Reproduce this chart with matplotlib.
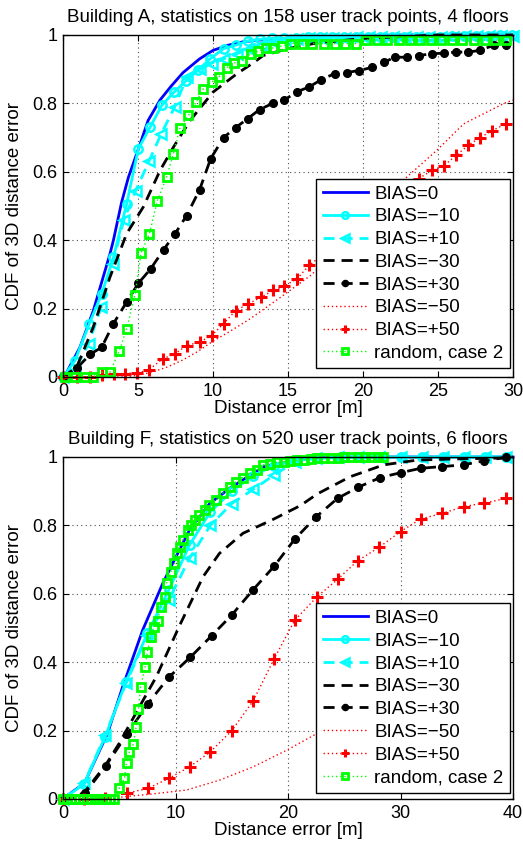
import matplotlib
matplotlib.use('Agg')
import matplotlib.pyplot as plt

plt.rcParams['font.family'] = ['Liberation Sans', 'DejaVu Sans']
plt.rcParams['font.size'] = 13.5

labels = ['BIAS=0', 'BIAS=\u221210', 'BIAS=+10', 'BIAS=\u221230', 'BIAS=+30',
          'BIAS=\u221250', 'BIAS=+50', 'random, case 2']

# ---- Building A ----
a_title = 'Building A, statistics on 158 user track points, 4 floors'
a_xticks = [0, 5, 10, 15, 20, 25, 30]

a_bias0_x = [0, 0.2, 1.13, 2.02, 3.13, 3.36, 3.9, 4.36, 5.13, 5.67, 6.47, 7.2, 8.0, 9.1, 10.0, 11.0, 12.0, 13.0, 15.0, 18.0, 22.0, 30.0]
a_bias0_y = [0, 0.01, 0.087, 0.194, 0.36, 0.40, 0.51, 0.584, 0.68, 0.75, 0.81, 0.85, 0.89, 0.93, 0.955, 0.97, 0.98, 0.985, 0.99, 0.995, 1.0, 1.0]

a_m10_x = [0, 0.8, 1.75, 2.58, 3.36, 4.24, 5.02, 5.8, 6.58, 7.4, 8.2, 9.0, 9.8, 10.7, 11.5, 12.3, 13.1, 13.9, 14.7,
           15.5, 16.3, 17.1, 17.9, 18.7, 19.5, 20.3, 21.1, 21.9, 22.7, 23.5, 24.3, 25.1, 25.9, 26.7, 27.5, 28.3, 29.1, 29.9]
a_m10_y = [0, 0.048, 0.156, 0.243, 0.35, 0.506, 0.667, 0.73, 0.794, 0.833, 0.866, 0.897, 0.93, 0.96, 0.97, 0.982, 0.987, 0.99, 0.99,
           0.99, 0.993, 0.993, 0.993, 0.993, 0.995, 0.995, 0.995, 0.995, 0.995, 0.995, 0.995, 0.995, 0.997, 0.997, 0.997, 0.997, 1.0, 1.0]

a_p10_x = [0, 0.8, 1.7, 2.55, 3.3, 4.05, 4.85, 5.75, 6.55, 7.45, 8.25, 9.1, 9.9, 10.7, 11.6, 12.4, 13.2, 14.0, 14.8,
           15.6, 16.4, 17.2, 18.0, 18.8, 19.6, 20.4, 21.2, 22.0, 22.8, 23.6, 24.4, 25.2, 26.0, 26.8, 27.6, 28.4, 29.2, 30.0]
a_p10_y = [0, 0.02, 0.097, 0.204, 0.33, 0.458, 0.545, 0.633, 0.711, 0.79, 0.877, 0.90, 0.916, 0.93, 0.945, 0.96, 0.97, 0.98, 0.985,
           0.988, 0.99, 0.99, 0.99, 0.99, 0.993, 0.993, 0.993, 0.993, 0.995, 0.995, 0.995, 0.995, 0.995, 0.997, 0.997, 0.997, 0.997, 0.997]

a_m30_x = [0, 0.91, 2.02, 3.13, 4.24, 5.35, 6.47, 7.36, 8.47, 10.0, 11.6, 12.6, 13.35, 15.0, 16.7, 20.0, 25.0, 30.0]
a_m30_y = [0, 0.029, 0.146, 0.292, 0.419, 0.497, 0.604, 0.672, 0.75, 0.833, 0.887, 0.916, 0.94, 0.96, 0.975, 0.99, 1.0, 1.0]

a_p30_x = [0, 0.9, 1.8, 2.58, 3.36, 4.24, 5.02, 5.84, 6.7, 7.47, 8.24, 9.1, 9.84, 10.7, 11.5, 12.3, 13.1, 13.98, 14.75,
           15.6, 16.4, 17.2, 18.1, 18.9, 19.7, 20.6, 21.4, 22.1, 22.9, 23.7, 24.6, 25.4, 26.2, 27.0, 27.8, 28.7, 29.5]
a_p30_y = [0, 0.025, 0.066, 0.087, 0.156, 0.219, 0.274, 0.316, 0.372, 0.419, 0.472, 0.547, 0.638, 0.70, 0.729, 0.755, 0.782, 0.80, 0.81,
           0.834, 0.848, 0.869, 0.887, 0.89, 0.896, 0.905, 0.92, 0.935, 0.935, 0.94, 0.945, 0.947, 0.95, 0.95, 0.955, 0.97, 0.97]

a_m50_x = [0, 4.0, 5.0, 6.0, 7.0, 8.0, 9.0, 10.0, 11.0, 12.47, 14.5, 16.6, 22.9, 24.9, 26.7, 29.4, 30.0]
a_m50_y = [0, 0, 0.005, 0.015, 0.03, 0.05, 0.075, 0.105, 0.13, 0.17, 0.233, 0.30, 0.584, 0.662, 0.74, 0.80, 0.81]

a_p50_x = [0, 0.9, 1.8, 2.6, 3.4, 4.1, 4.95, 5.7, 6.64, 7.47, 8.24, 9.1, 9.9, 10.7, 11.5, 12.35, 13.2, 14.0, 14.7, 15.6, 16.4,
           23.7, 24.6, 25.4, 26.2, 27.0, 27.8, 28.6, 29.5]
a_p50_y = [0, 0, 0, 0.005, 0.01, 0.01, 0.012, 0.02, 0.053, 0.068, 0.092, 0.102, 0.121, 0.156, 0.194, 0.214, 0.233, 0.253, 0.265, 0.287, 0.326,
           0.58, 0.604, 0.618, 0.648, 0.677, 0.70, 0.72, 0.74]

a_rand_x = [0.13, 0.8, 1.47, 2.0, 2.58, 3.13, 3.76, 4.24, 4.8, 5.2, 5.76, 6.29, 6.9, 7.36, 7.8, 8.36, 8.87, 9.36, 9.9, 10.4,
            10.9, 11.4, 11.9, 12.5, 13.0, 13.5, 14.0, 14.6, 15.2, 15.9, 16.6, 17.4, 18.1, 18.8, 19.5, 20.2, 20.9, 21.6,
            22.4, 23.1, 23.8, 24.5, 25.2, 25.9, 26.6, 27.4, 28.1, 28.8, 29.5]
a_rand_y = [0, 0, 0, 0, 0.014, 0.014, 0.077, 0.14, 0.241, 0.362, 0.419, 0.516, 0.584, 0.653, 0.729, 0.765, 0.804, 0.843, 0.862, 0.877,
            0.904, 0.918, 0.925, 0.945, 0.952, 0.962, 0.962, 0.968, 0.975, 0.975, 0.975, 0.975, 0.975, 0.975, 0.975, 0.985, 0.985, 0.985,
            0.985, 0.985, 0.985, 0.985, 0.985, 0.985, 0.985, 0.985, 0.985, 0.985, 0.985]

# ---- Building F ----
f_title = 'Building F, statistics on 520 user track points, 6 floors'
f_xticks = [0, 10, 20, 30, 40]

f_grid_x = [0, 1.87, 3.75, 5.6, 7.5, 9.4, 11.25, 13.1, 15.0, 16.9, 18.75, 20.6, 22.5, 24.4, 26.25, 28.1, 30.0, 31.9, 33.75, 35.6, 37.5, 39.4]

f_bias0_x = [0, 0.24, 1.9, 3.96, 5.3, 7.08, 8.87, 9.9, 11.25, 13.04, 14.8, 17.8, 21.7, 25.0, 40.0]
f_bias0_y = [0, 0.007, 0.046, 0.192, 0.328, 0.494, 0.631, 0.699, 0.787, 0.864, 0.908, 0.971, 0.996, 1.0, 1.0]

f_m10_y = [0, 0.044, 0.182, 0.343, 0.484, 0.611, 0.743, 0.84, 0.90, 0.945, 0.975, 0.99, 0.996, 0.998, 1, 1, 1, 1, 1, 1, 1, 1]
f_p10_y = [0, 0.046, 0.187, 0.338, 0.48, 0.582, 0.704, 0.80, 0.864, 0.905, 0.947, 0.985, 0.997, 1, 1, 1, 1, 1, 1, 1, 1, 1]

f_m30_x = [0, 1.0, 1.9, 3.8, 5.0, 6.8, 8.3, 10.4, 12.45, 13.9, 16.0, 18.7, 21.1, 22.6, 25.5, 28.5, 31.5, 34.5, 39.0, 40.0]
f_m30_y = [0, 0.005, 0.02, 0.10, 0.163, 0.27, 0.358, 0.51, 0.65, 0.718, 0.777, 0.818, 0.858, 0.892, 0.942, 0.977, 0.991, 0.994, 0.997, 1.0]

f_p30_x = [0, 1.96, 3.8, 5.7, 7.53, 9.4, 11.3, 13.2, 15.0, 16.9, 18.75, 20.6, 22.5, 24.4, 26.2, 28.2, 30.0, 31.8, 33.7, 35.6, 37.4, 39.4]
f_p30_y = [0, 0.017, 0.097, 0.19, 0.278, 0.356, 0.414, 0.477, 0.538, 0.612, 0.68, 0.76, 0.825, 0.879, 0.911, 0.94, 0.954, 0.967, 0.972, 0.977, 0.989, 0.999]

f_m50_x = [0, 4.0, 5.0, 8.0, 10.95, 13.9, 16.9, 19.9, 22.6, 26.0, 30.0, 35.0, 40.0]
f_m50_y = [0, 0, 0.005, 0.015, 0.026, 0.055, 0.094, 0.143, 0.192, 0.27, 0.37, 0.46, 0.53]

f_p50_x = [0, 1.87, 3.75, 5.65, 7.53, 9.4, 11.25, 13.1, 15.0, 16.9, 18.75, 20.6, 22.6, 24.4, 26.2, 28.1, 30.0, 31.8, 33.7, 35.6, 37.4, 39.4]
f_p50_y = [0, 0, 0.003, 0.017, 0.031, 0.06, 0.094, 0.138, 0.20, 0.287, 0.409, 0.523, 0.592, 0.642, 0.697, 0.736, 0.782, 0.819, 0.835, 0.855, 0.865, 0.879]

f_rand_x = [0, 0.35, 0.7, 1.05, 1.4, 1.75, 2.1, 2.45, 2.8, 3.15, 3.5, 3.85, 4.2, 4.55, 5.0, 5.45, 5.65, 5.9, 6.25, 6.5, 6.7, 6.9,
            7.3, 7.5, 7.8, 8.1, 8.4, 8.7, 9.1, 9.2, 9.6, 9.9, 10.1, 10.36, 10.65, 11.1, 11.4, 11.7, 12.1, 12.6, 13.0, 13.6,
            14.2, 14.8, 15.4, 16.0, 16.6, 17.2, 17.8, 18.4, 19.0, 19.6, 20.2, 20.8, 21.4, 22.0, 22.6, 23.2, 23.8, 24.4,
            25.0, 25.6, 26.2, 26.8, 27.4, 28.0, 28.4]
f_rand_y = [0, 0, 0, 0, 0, 0, 0, 0, 0, 0, 0, 0, 0, 0, 0.031, 0.06, 0.104, 0.138, 0.16, 0.211, 0.262, 0.328,
            0.387, 0.43, 0.474, 0.504, 0.52, 0.562, 0.592, 0.631, 0.665, 0.689, 0.718, 0.738, 0.757, 0.787, 0.80, 0.816, 0.83, 0.845, 0.86, 0.874,
            0.894, 0.913, 0.928, 0.94, 0.952, 0.962, 0.977, 0.98, 0.984, 0.986, 0.988, 0.99, 0.992, 0.994, 0.996, 0.997, 0.998, 0.998,
            0.999, 1, 1, 1, 1, 1, 1]

cyan = (0, 1, 1)
green = (0, 1, 0)
dash = (0, (4, 2.5))
dots = (0, (1, 2))
styles = [
    dict(color='b', ls='-', lw=2.0),
    dict(color=cyan, ls='-', lw=2.0, marker='o', mfc='none', mew=1.8, ms=6),
    dict(color=cyan, ls=dash, lw=2.0, marker='<', mfc='none', mew=1.8, ms=7),
    dict(color='k', ls=dash, lw=2.0),
    dict(color='k', ls=dash, lw=2.0, marker='o', mfc='k', mec='k', ms=5.5),
    dict(color='r', ls=dots, lw=1.0),
    dict(color='r', ls=dots, lw=1.0, marker='+', mew=2.2, ms=8),
    dict(color=green, ls=dots, lw=1.0, marker='s', mfc='none', mew=2.0, ms=6),
]

fig = plt.figure(figsize=(5.23, 8.43), dpi=100)
ax1 = fig.add_axes([0.1205, 0.5528, 0.8605, 0.4057])
ax2 = fig.add_axes([0.1205, 0.0522, 0.8605, 0.4057])

panels = [
    (ax1, a_title, a_xticks, 30, [
        (a_bias0_x, a_bias0_y), (a_m10_x, a_m10_y), (a_p10_x, a_p10_y), (a_m30_x, a_m30_y),
        (a_p30_x, a_p30_y), (a_m50_x, a_m50_y), (a_p50_x, a_p50_y), (a_rand_x, a_rand_y)], 0.025),
    (ax2, f_title, f_xticks, 40, [
        (f_bias0_x, f_bias0_y), (f_grid_x, f_m10_y), (f_grid_x, f_p10_y), (f_m30_x, f_m30_y),
        (f_p30_x, f_p30_y), (f_m50_x, f_m50_y), (f_p50_x, f_p50_y), (f_rand_x, f_rand_y)], 0.018),
]

for ax, title, xticks, xmax, series, leg_y in panels:
    for (xs, ys), st, lab in zip(series, styles, labels):
        ax.plot(xs, ys, label=lab, clip_on=False, **st)
    ax.set_xlim(0, xmax)
    ax.set_ylim(0, 1)
    ax.set_xticks(xticks)
    ax.set_yticks([0, 0.2, 0.4, 0.6, 0.8, 1])
    ax.set_yticklabels(['0', '0.2', '0.4', '0.6', '0.8', '1'])
    ax.grid(True, color='0.3', ls=(0, (1, 3)), lw=0.8)
    ax.tick_params(direction='in', top=True, right=True, length=4, labelsize=13, pad=4)
    for sp in ax.spines.values():
        sp.set_linewidth(1.0)
    ax.set_title(title, fontsize=13.5, pad=9)
    ax.set_xlabel('Distance error [m]', fontsize=13.5, labelpad=0)
    ax.set_ylabel('CDF of 3D distance error', fontsize=13.5, labelpad=7)
    leg = ax.legend(loc='lower right', bbox_to_anchor=(0.993, leg_y), bbox_transform=ax.transAxes,
                    borderaxespad=0, fancybox=False, framealpha=1, edgecolor='k', fontsize=13.5,
                    handlelength=2.4, labelspacing=0.3, borderpad=0.35, handletextpad=0.35, markerscale=0.8)
    leg.get_frame().set_linewidth(1.0)
    leg.set_zorder(5)

plt.savefig('out.png', dpi=100)
